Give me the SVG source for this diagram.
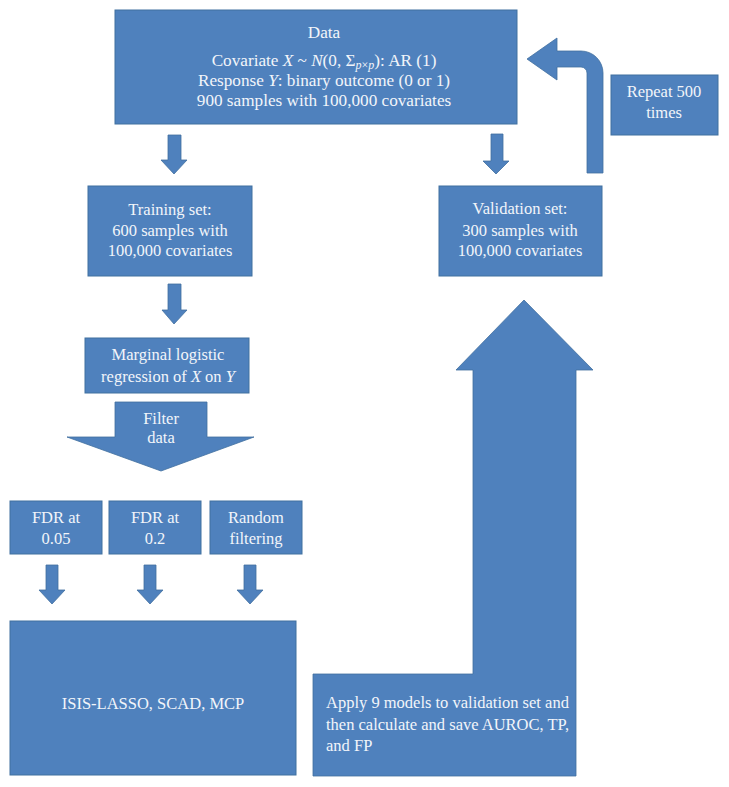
<svg xmlns="http://www.w3.org/2000/svg" width="729" height="787" viewBox="0 0 729 787">
<style>
.box{fill:#4f81bd;stroke:#41709f;stroke-width:1}
.arr{fill:#4f81bd;stroke:#41709f;stroke-width:0.8}
text{font-family:"Liberation Serif","Times New Roman",serif;font-size:16.5px;fill:#f2f5fa;text-anchor:middle}
.big{font-size:17.2px}
.l{text-anchor:start}
.i{font-style:italic}
</style>
<rect width="729" height="787" fill="#ffffff"/>
<g id="connectors">
<polygon class="arr" points="168,135 181,135 181,160 187,160 174,174 161,160 168,160"/>
<polygon class="arr" points="491,134 503,134 503,161 509,161 496,174 483,161 491,161"/>
<polygon class="arr" points="168,284 181,284 181,310 187,310 174,324 162,310 168,310"/>
<polygon class="arr" points="46,565 58,565 58,590 65,590 52,604 39,590 46,590"/>
<polygon class="arr" points="144,565 156,565 156,590 163,590 150,604 137,590 144,590"/>
<polygon class="arr" points="244,565 256,565 256,590 263,590 250,604 237,590 244,590"/>
<path class="arr" d="M603 173 L603 73 A22 22 0 0 0 581 51 L557 51 L557 38 L527 59 L557 80 L557 67 L581 67 A6 6 0 0 1 587 73 L587 173 Z"/>
</g>
<g id="data">
<rect class="box" x="115" y="10" width="402" height="114"/>
<text class="big" x="324" y="38">Data</text>
<text class="big" x="324" y="66">Covariate <tspan class="i">X</tspan> ~ <tspan class="i">N</tspan>(0, Σ<tspan dy="3" font-size="12"><tspan class="i">p</tspan>×<tspan class="i">p</tspan></tspan><tspan dy="-3">): AR (1)</tspan></text>
<text class="big" x="324" y="86">Response <tspan class="i">Y</tspan>: binary outcome (0 or 1)</text>
<text class="big" x="324" y="106">900 samples with 100,000 covariates</text>
</g>
<g id="repeat">
<rect class="box" x="611" y="75" width="107" height="60"/>
<text x="664" y="97">Repeat 500</text>
<text x="664" y="118">times</text>
</g>
<g id="training">
<rect class="box" x="88" y="186" width="164" height="90"/>
<text x="170" y="215">Training set:</text>
<text x="170" y="236">600 samples with</text>
<text x="170" y="256">100,000 covariates</text>
</g>
<g id="validation">
<rect class="box" x="439" y="186" width="163" height="90"/>
<text x="520" y="214">Validation set:</text>
<text x="520" y="236">300 samples with</text>
<text x="520" y="256">100,000 covariates</text>
</g>
<g id="marginal">
<rect class="box" x="85" y="338" width="164" height="55"/>
<text x="168" y="360">Marginal logistic</text>
<text x="168" y="382">regression of <tspan class="i">X</tspan> on <tspan class="i">Y</tspan></text>
</g>
<g id="filter">
<polygon class="arr" points="115,402 207,402 207,437 254,437 161,471 67,437 115,437"/>
<text x="161" y="424">Filter</text>
<text x="161" y="443">data</text>
</g>
<g id="fdr005">
<rect class="box" x="10" y="501" width="92" height="53"/>
<text x="56" y="523">FDR at</text>
<text x="56" y="544">0.05</text>
</g>
<g id="fdr02">
<rect class="box" x="109" y="501" width="92" height="53"/>
<text x="155" y="523">FDR at</text>
<text x="155" y="544">0.2</text>
</g>
<g id="random">
<rect class="box" x="210" y="501" width="92" height="53"/>
<text x="256" y="523">Random</text>
<text x="256" y="544">filtering</text>
</g>
<g id="models">
<rect class="box" x="10" y="621" width="286" height="154"/>
<text x="153" y="709">ISIS-LASSO, SCAD, MCP</text>
</g>
<g id="apply">
<polygon class="arr" points="313,674 473,674 473,370 456,370 524,300 593,370 576,370 576,776 313,776"/>
<text class="l" x="326" y="708">Apply 9 models to validation set and</text>
<text class="l" x="326" y="730">then calculate and save AUROC, TP,</text>
<text class="l" x="326" y="751">and FP</text>
</g>
</svg>
